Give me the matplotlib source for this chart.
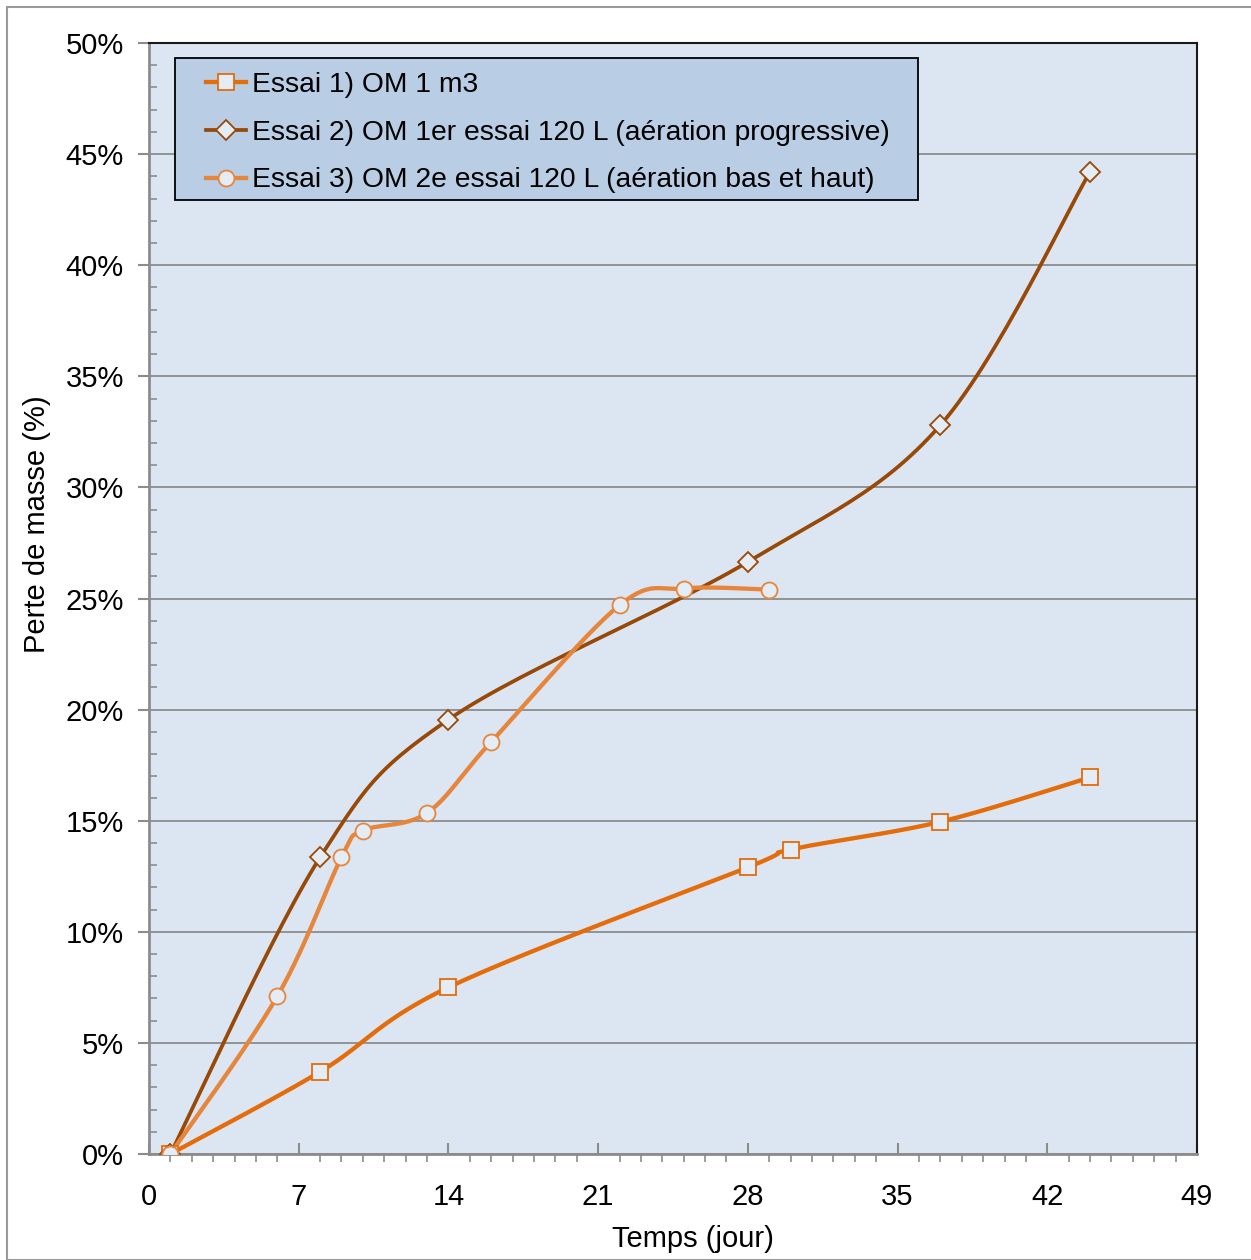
import matplotlib
matplotlib.use('Agg')
import matplotlib.pyplot as plt
from matplotlib.patches import Rectangle
from matplotlib.lines import Line2D
from matplotlib.ticker import MultipleLocator, FuncFormatter
import numpy as np

plt.rcParams['font.family'] = ['Liberation Sans', 'DejaVu Sans']

# data (time in days, mass loss in %)
t1 = [1, 8, 14, 28, 30, 37, 44]
y1 = [0.0, 3.7, 7.5, 12.9, 13.7, 14.95, 16.95]
t2 = [1, 8, 14, 28, 37, 44]
y2 = [0.0, 13.35, 19.55, 26.65, 32.8, 44.2]
t3 = [1, 6, 9, 10, 13, 16, 22, 25, 29]
y3 = [0.0, 7.1, 13.35, 14.55, 15.35, 18.55, 24.7, 25.45, 25.4]

labels = ['Essai 1) OM 1 m3',
          'Essai 2) OM 1er essai 120 L (aération progressive)',
          'Essai 3) OM 2e essai 120 L (aération bas et haut)']
colors = ['#E46C0A', '#984807', '#E5863C']
markers = ['s', 'D', 'o']

W, H = 1251, 1260


def smooth(x, y, n=30):
    # excel-like smoothed line : catmull-rom bezier through the points
    p = np.column_stack([x, y]).astype(float)
    ext = np.vstack([p[0], p, p[-1]])
    out = []
    for i in range(len(p) - 1):
        p0, p1, p2, p3 = ext[i], ext[i + 1], ext[i + 2], ext[i + 3]
        c1 = p1 + (p2 - p0) / 6
        c2 = p2 - (p3 - p1) / 6
        s = np.linspace(0, 1, n)[:, None]
        seg = ((1 - s) ** 3) * p1 + 3 * ((1 - s) ** 2) * s * c1 + 3 * (1 - s) * s ** 2 * c2 + s ** 3 * p2
        out.append(seg if i == 0 else seg[1:])
    out = np.vstack(out)
    return out[:, 0], out[:, 1]


fig = plt.figure(figsize=(W / 100, H / 100), dpi=100)
fig.patches.append(Rectangle((7 / W, 0), 1.2, 1 - 7 / H, transform=fig.transFigure,
                             fill=False, edgecolor='#9a9a9a', linewidth=1.5))
ax = fig.add_axes([149 / W, 1 - 1154 / H, 1048 / W, 1111 / H])
ax.set_facecolor('#DCE6F2')

series = [(t1, y1), (t2, y2), (t3, y3)]
widths = [3.1, 2.7, 3.1]
sizes = [11, 10, 11.5]
handles = []
for (tx, ty), c, m, lab, lw, ms in zip(series, colors, markers, labels, widths, sizes):
    sx, sy = smooth(tx, ty)
    ax.plot(sx, sy, color=c, linewidth=lw, zorder=3, solid_capstyle='round')
    ax.plot(tx, ty, linestyle='none', marker=m, markersize=ms, markerfacecolor='#E4ECF6',
            markeredgecolor=c, markeredgewidth=1.3, zorder=4)
    handles.append(Line2D([0], [0], color=c, linewidth=lw, marker=m, markersize=ms,
                          markerfacecolor='#E4ECF6', markeredgecolor=c, markeredgewidth=1.3))

ax.set_xlim(0, 49)
ax.set_ylim(0, 50)
ax.xaxis.set_major_locator(MultipleLocator(7))
ax.xaxis.set_minor_locator(MultipleLocator(1))
ax.yaxis.set_major_locator(MultipleLocator(5))
ax.yaxis.set_minor_locator(MultipleLocator(1))
ax.yaxis.set_major_formatter(FuncFormatter(lambda v, p: '%d%%' % round(v)))
ax.grid(axis='y', which='major', color='#8C8C8C', linewidth=1.3, zorder=1)
ax.set_axisbelow(True)

for s in ['left', 'bottom']:
    ax.spines[s].set_color('#8C8C8C')
    ax.spines[s].set_linewidth(2)
for s in ['top', 'right']:
    ax.spines[s].set_color('#1a1a1a')
    ax.spines[s].set_linewidth(1.5)

ax.tick_params(axis='y', which='major', direction='out', length=8, width=1.5, color='#8C8C8C',
               labelsize=21, pad=10)
ax.tick_params(axis='y', which='minor', direction='in', length=6, width=1.2, color='#8C8C8C')
ax.tick_params(axis='x', which='major', direction='in', length=8, width=1.5, color='#8C8C8C',
               labelsize=21, pad=21)
ax.tick_params(axis='x', which='minor', direction='out', length=6, width=1.2, color='#8C8C8C')

fig.text(693 / W, 1 - 1239 / H, 'Temps (jour)', fontsize=21, ha='center', va='center')
fig.text(37 / W, 1 - 524 / H, 'Perte de masse (%)', fontsize=21, ha='center', va='center',
         rotation=90)

# legend box drawn by hand, legend entries without frame inside it
ax.add_patch(Rectangle((175 / W, 1 - 200 / H), 743 / W, 142 / H, transform=fig.transFigure,
                       facecolor='#B9CDE5', edgecolor='#000000', linewidth=1.3, zorder=5))
leg = ax.legend(handles, labels, loc='upper left', bbox_to_anchor=(206 / W, 1 - 72 / H),
                bbox_transform=fig.transFigure, fontsize=20.3, frameon=False, borderpad=0,
                handlelength=1.42, handletextpad=0.2, labelspacing=0.77, borderaxespad=0)
leg.set_zorder(6)

fig.savefig('out.png', dpi=100)
